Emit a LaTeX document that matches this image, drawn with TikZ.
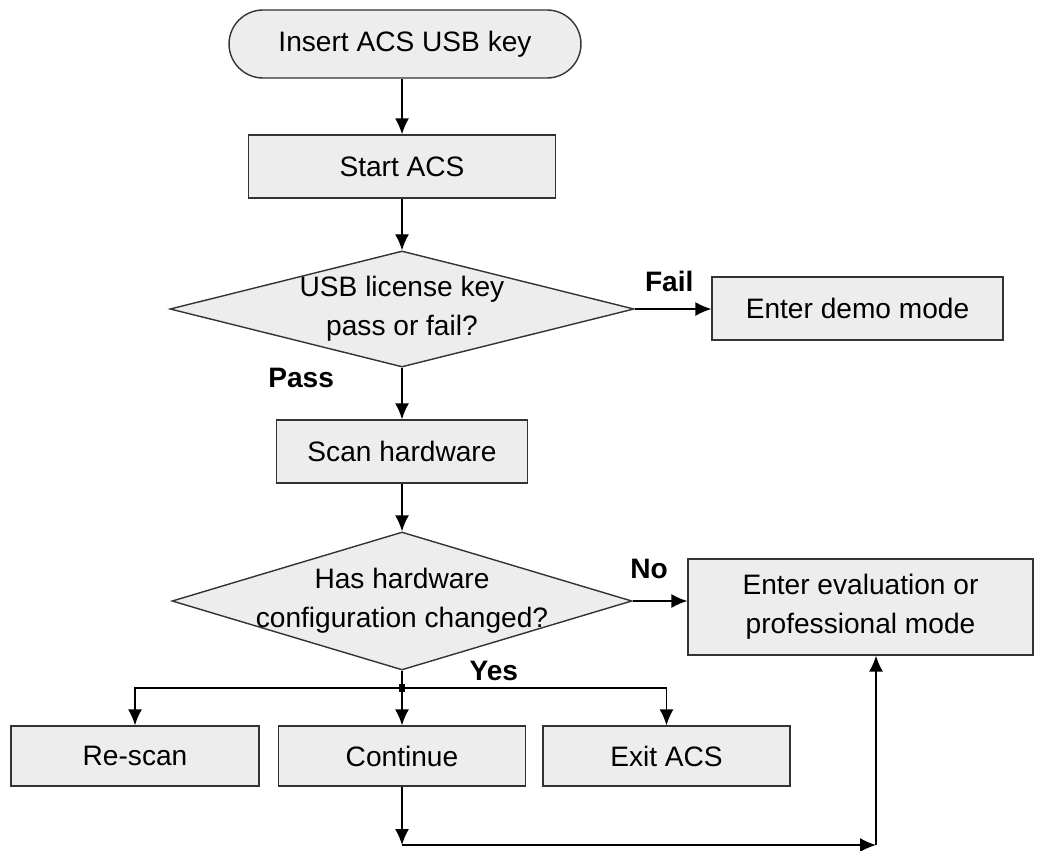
\documentclass[tikz,border=0pt]{standalone}
\usepackage{fontspec}
\setmainfont{Liberation Sans}
\usetikzlibrary{arrows.meta,shapes.geometric,shapes.misc}

\begin{document}
\begin{tikzpicture}[x=0.02cm,y=-0.02cm,
        box/.style={draw=black!80,fill=black!7,line width=0.8pt,inner sep=0pt,align=center,
            font=\fontsize{16}{22}\selectfont},
        decision/.style={box,diamond,aspect=#1},
        arr/.style={-{Latex[length=3.2mm,width=2.8mm]},line width=0.8pt},
        lbl/.style={font=\fontsize{16}{20}\selectfont\bfseries}]
        \useasboundingbox (0,0) rectangle (1041,851);

        \node[box,rounded rectangle,minimum width=7.04cm,minimum height=1.36cm] (insert) at (405,44) {Insert ACS USB key};
        \node[box,minimum width=6.14cm,minimum height=1.26cm] (start) at (402,166.5) {Start ACS};
        \node[decision=4,minimum width=9.2cm,minimum height=2.28cm] (license) at (402,309) {USB license key\\pass or fail?};
        \node[box,minimum width=5.82cm,minimum height=1.26cm] (demo) at (857.5,308.5) {Enter demo mode};
        \node[box,minimum width=5.02cm,minimum height=1.26cm] (scan) at (402,451.5) {Scan hardware};
        \node[decision=3.33,inner sep=-3.2pt,minimum width=9.2cm,minimum height=2.76cm] (changed) at (402,601) {Has hardware\\configuration changed?};
        \node[box,minimum width=6.9cm,minimum height=1.92cm] (eval) at (860.5,607) {Enter evaluation or\\professional mode};
        \node[box,minimum width=4.96cm,minimum height=1.2cm] (rescan) at (135,756) {Re-scan};
        \node[box,minimum width=4.94cm,minimum height=1.2cm] (cont) at (402,756) {Continue};
        \node[box,minimum width=4.94cm,minimum height=1.2cm] (exit) at (666.5,756) {Exit ACS};

        \coordinate (split) at (402,688);
        \coordinate (down) at (402,845);
        \coordinate (corner) at (876,845);

        \draw[arr] (insert.south -| start) -- (start);
        \draw[arr] (start) -- (license);
        \draw[arr] (license.east) -- (license.east -| demo.west) node[lbl,pos=0.45,above=6pt] {Fail};
        \draw[arr] (license) -- (scan) node[lbl,pos=0.2,left=35pt] {Pass};
        \draw[arr] (scan) -- (changed);
        \draw[arr] (changed.east) -- (changed.east -| eval.west) node[lbl,pos=0.3,above=9pt] {No};
        \draw[line width=0.8pt] (changed.south) -- (split)
            node[lbl,pos=0,anchor=west,xshift=1.22cm] {Yes};
        \draw[arr] (split) -| (rescan.north);
        \draw[arr] (split) -- (cont.north);
        \draw[arr] (split) -| (exit.north);
        \fill (split) +(-3,-4) rectangle +(3,4);
        \draw[arr] (cont.south) -- (down);
        \draw[arr] (down) -- (corner);
        \draw[arr] (corner) -- (corner |- eval.south);
\end{tikzpicture}
\end{document}
